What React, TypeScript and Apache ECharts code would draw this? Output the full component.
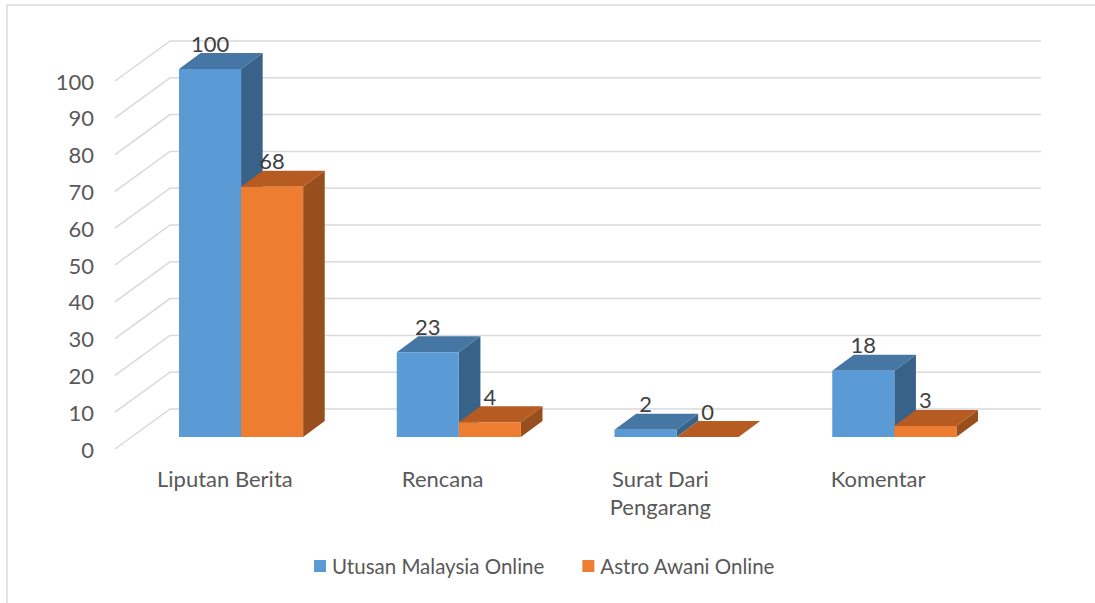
import React, { useEffect, useRef } from "react";
import * as echarts from "echarts";

const categories = ["Liputan Berita", "Rencana", "Surat Dari\nPengarang", "Komentar"];
const seriesNames = ["Utusan Malaysia Online", "Astro Awani Online"];
const utusan = [100, 23, 2, 18];
const astro = [68, 4, 0, 3];
const yTicks = [0, 10, 20, 30, 40, 50, 60, 70, 80, 90, 100];

const FONT = "Lato, 'Open Sans', sans-serif";
const DX = 54; // depth vector of the floor
const DY = -40;
const BAR_FRONT = 0.3;
const BAR_DEPTH = 0.4;
const BAR_W = 0.285;

const colors = [
  { front: "#5B9BD5", top: "#4676A3", side: "#386287" },
  { front: "#ED7D31", top: "#B65B21", side: "#994F1D" },
];

function barRender(sIdx: number) {
  return (params: any, api: any) => {
    const i = api.value(0);
    const v = api.value(1);
    const base = api.coord([i, 0]);
    const topP = api.coord([i, v]);
    const bw = api.size([1, 0])[0] * BAR_W;
    const ox = DX * BAR_FRONT;
    const oy = DY * BAR_FRONT;
    const ddx = DX * BAR_DEPTH;
    const ddy = DY * BAR_DEPTH;
    const x0 = (sIdx === 0 ? base[0] - bw : base[0]) + ox;
    const x1 = x0 + bw;
    const yb = base[1] + oy;
    const yt = topP[1] + oy;
    const c = colors[sIdx];
    return {
      type: "group",
      children: [
        {
          type: "polygon",
          shape: { points: [[x1, yb], [x1 + ddx, yb + ddy], [x1 + ddx, yt + ddy], [x1, yt]] },
          style: { fill: c.side },
        },
        {
          type: "polygon",
          shape: { points: [[x0, yt], [x1, yt], [x1 + ddx, yt + ddy], [x0 + ddx, yt + ddy]] },
          style: { fill: c.top },
        },
        {
          type: "rect",
          shape: { x: x0, y: yt, width: bw, height: yb - yt },
          style: { fill: c.front },
        },
        {
          type: "text",
          style: {
            text: String(v),
            x: (x0 + x1) / 2,
            y: yt + ddy - 10,
            align: "center",
            verticalAlign: "middle",
            fill: "#404040",
            font: `22px ${FONT}`,
          },
        },
      ],
    };
  };
}

export default function App() {
  const ref = useRef<HTMLDivElement>(null);
  useEffect(() => {
    if (!ref.current) return;
    const chart = echarts.init(ref.current, null, { renderer: "svg" });
    chart.setOption({
      animation: false,
      backgroundColor: "#FFFFFF",
      textStyle: { fontFamily: FONT },
      grid: { left: 116, top: 81, width: 871, height: 368 },
      xAxis: {
        type: "category",
        data: categories,
        axisLine: { show: false },
        axisTick: { show: false },
        splitLine: { show: false },
        axisLabel: { color: "#595959", fontSize: 22, fontFamily: FONT, margin: 15, lineHeight: 28, interval: 0 },
      },
      yAxis: {
        type: "value",
        min: 0,
        max: 100,
        interval: 10,
        axisLine: { show: false },
        axisTick: { show: false },
        splitLine: { show: false },
        axisLabel: { color: "#595959", fontSize: 22, fontFamily: FONT, margin: 22 },
      },
      legend: {
        data: seriesNames,
        left: 309,
        top: 549,
        itemWidth: 12,
        itemHeight: 12,
        itemGap: 38,
        icon: "rect",
        textStyle: { color: "#595959", fontSize: 20.5, fontFamily: FONT, lineHeight: 24, padding: [0, 0, 0, 1] },
      },
      graphic: [
        {
          type: "polyline",
          shape: { points: [[7, 603], [7, 5], [1095, 5]] },
          style: { stroke: "#D9D9D9", lineWidth: 1.5, fill: null },
          silent: true,
        },
      ],
      series: [
        {
          type: "custom",
          name: "walls",
          z: 1,
          silent: true,
          clip: false,
          data: yTicks.map((v) => [0, v]),
          renderItem: (params: any, api: any) => {
            const v = api.value(1);
            const c = api.coord([0, v]);
            const bw = api.size([1, 0])[0];
            const xl = c[0] - bw / 2;
            const xr = xl + categories.length * bw;
            return {
              type: "polyline",
              shape: { points: [[xl - 1, c[1]], [xl + DX, c[1] + DY], [xr + DX, c[1] + DY]] },
              style: { stroke: "#D9D9D9", lineWidth: 1.5, fill: null },
            };
          },
        },
        {
          type: "custom",
          name: seriesNames[0],
          z: 2,
          clip: false,
          itemStyle: { color: colors[0].front },
          data: utusan.map((v, i) => [i, v]),
          renderItem: barRender(0),
        },
        {
          type: "custom",
          name: seriesNames[1],
          z: 3,
          clip: false,
          itemStyle: { color: colors[1].front },
          data: astro.map((v, i) => [i, v]),
          renderItem: barRender(1),
        },
      ],
    });
    return () => chart.dispose();
  }, []);
  return <div ref={ref} style={{ position: "absolute", left: 0, top: 0, width: 1095, height: 603 }} />;
}
